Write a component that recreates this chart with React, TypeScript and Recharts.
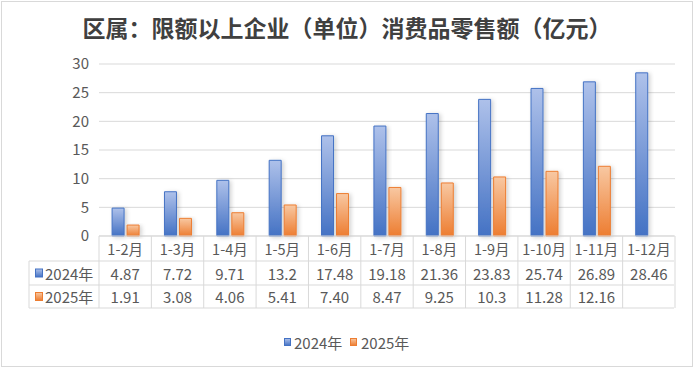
import { BarChart, Bar, XAxis, YAxis, CartesianGrid } from 'recharts';

const title = '区属：限额以上企业（单位）消费品零售额（亿元）';
const categories = ['1-2月', '1-3月', '1-4月', '1-5月', '1-6月', '1-7月', '1-8月', '1-9月', '1-10月', '1-11月', '1-12月'];
const seriesNames = ['2024年', '2025年'];
const values2024 = ['4.87', '7.72', '9.71', '13.2', '17.48', '19.18', '21.36', '23.83', '25.74', '26.89', '28.46'];
const values2025 = ['1.91', '3.08', '4.06', '5.41', '7.40', '8.47', '9.25', '10.3', '11.28', '12.16', ''];
const yTicks = [0, 5, 10, 15, 20, 25, 30];

const data = categories.map((c, i) => ({
  name: c,
  y2024: values2024[i] === '' ? null : Number(values2024[i]),
  y2025: values2025[i] === '' ? null : Number(values2025[i]),
}));

const W = 694;
const H = 368;
const PLOT_L = 99;
const PLOT_R = 675;
const PLOT_T = 64;
const PLOT_B = 236;
const BAND = (PLOT_R - PLOT_L) / categories.length;
const ROWS = [236, 261, 285, 308];
const FONT = "'Noto Sans CJK SC', 'Microsoft YaHei', sans-serif";
const TEXT = '#595959';
const LINE = '#d9d9d9';
const colors = ['#4472c4', '#ed7d31'];

const TableTick = (props: any) => {
  const { x, payload } = props;
  const i = payload?.index ?? props.index;
  const cells = [categories[i], values2024[i], values2025[i]];
  return (
    <g fontFamily={FONT} fill={TEXT}>
      <line x1={x + BAND / 2} x2={x + BAND / 2} y1={ROWS[0]} y2={ROWS[3]} stroke={LINE} />
      {cells.map((t, r) => (
        <text
          key={r}
          x={x}
          y={(ROWS[r] + ROWS[r + 1]) / 2}
          textAnchor="middle"
          dominantBaseline="central"
          fontSize={r === 0 ? 14.5 : 15}
          fill={TEXT}
        >
          {t}
        </text>
      ))}
    </g>
  );
};

export default function App() {
  return (
    <div style={{ position: 'relative', width: W, height: H, background: '#fff' }}>
      <style>{'body{margin:0}'}</style>
      <BarChart
        width={W}
        height={H}
        data={data}
        margin={{ top: PLOT_T, right: W - PLOT_R, bottom: 0, left: 49 }}
        barCategoryGap="25%"
        barGap={3}
      >
        <defs>
          <linearGradient id="gBlue" x1="0" y1="0" x2="0" y2="1">
            <stop offset="0%" stopColor="#aec1ea" />
            <stop offset="100%" stopColor="#4472c4" />
          </linearGradient>
          <linearGradient id="gOrange" x1="0" y1="0" x2="0" y2="1">
            <stop offset="0%" stopColor="#f8c8a2" />
            <stop offset="100%" stopColor="#ed7d31" />
          </linearGradient>
          <filter id="shadow" x="-50%" y="-10%" width="200%" height="130%">
            <feDropShadow dx="2" dy="1" stdDeviation="2" floodColor="#000" floodOpacity="0.18" />
          </filter>
        </defs>
        <CartesianGrid vertical={false} stroke={LINE} />
        <XAxis
          dataKey="name"
          height={H - PLOT_B}
          interval={0}
          axisLine={false}
          tickLine={false}
          tick={(p: any) => <TableTick {...p} />}
        />
        <YAxis
          width={50}
          domain={[0, 30]}
          ticks={yTicks}
          axisLine={false}
          tickLine={false}
          tickMargin={4}
          tick={{ fill: TEXT, fontSize: 15, fontFamily: FONT }}
        />
        <Bar
          dataKey="y2024"
          name={seriesNames[0]}
          fill="url(#gBlue)"
          stroke={colors[0]}
          strokeWidth={1}
          filter="url(#shadow)"
          isAnimationActive={false}
        />
        <Bar
          dataKey="y2025"
          name={seriesNames[1]}
          fill="url(#gOrange)"
          stroke={colors[1]}
          strokeWidth={1}
          filter="url(#shadow)"
          isAnimationActive={false}
        />
      </BarChart>
      <svg
        width={W}
        height={H}
        style={{ position: 'absolute', left: 0, top: 0, pointerEvents: 'none' }}
        fontFamily={FONT}
      >
        <rect x={1.5} y={1.5} width={W - 3} height={H - 3} fill="none" stroke={LINE} />
        <text x={W / 2} y={27} textAnchor="middle" dominantBaseline="central" fontSize={23} fontWeight="bold" fill="#404040">
          {title}
        </text>
        {/* table frame */}
        <line x1={PLOT_L} x2={PLOT_R - 1} y1={ROWS[0]} y2={ROWS[0]} stroke={LINE} />
        <line x1={29} x2={PLOT_R - 1} y1={ROWS[1]} y2={ROWS[1]} stroke={LINE} />
        <line x1={29} x2={PLOT_R - 1} y1={ROWS[2]} y2={ROWS[2]} stroke={LINE} />
        <line x1={29} x2={PLOT_R - 1} y1={ROWS[3]} y2={ROWS[3]} stroke={LINE} />
        <line x1={PLOT_L} x2={PLOT_L} y1={ROWS[0]} y2={ROWS[3]} stroke={LINE} />
        <line x1={29} x2={29} y1={ROWS[1]} y2={ROWS[3]} stroke={LINE} />
        {seriesNames.map((s, i) => {
          const cy = (ROWS[i + 1] + ROWS[i + 2]) / 2;
          return (
            <g key={s}>
              <rect x={35.5} y={cy - 4} width={7} height={8} fill={i === 0 ? 'url(#lgBlue)' : 'url(#lgOrange)'} stroke={colors[i]} />
              <text x={45} y={cy} dominantBaseline="central" fontSize={15} fill={TEXT}>{s}</text>
            </g>
          );
        })}
        <defs>
          <linearGradient id="lgBlue" x1="0" y1="0" x2="0" y2="1">
            <stop offset="0%" stopColor="#aec1ea" />
            <stop offset="100%" stopColor="#4472c4" />
          </linearGradient>
          <linearGradient id="lgOrange" x1="0" y1="0" x2="0" y2="1">
            <stop offset="0%" stopColor="#f8c8a2" />
            <stop offset="100%" stopColor="#ed7d31" />
          </linearGradient>
        </defs>
        {/* legend */}
        {seriesNames.map((s, i) => (
          <g key={'lg' + s}>
            <rect x={284.5 + i * 66} y={338.5} width={6} height={7} fill={i === 0 ? 'url(#lgBlue)' : 'url(#lgOrange)'} stroke={colors[i]} />
            <text x={294 + i * 67} y={342.5} dominantBaseline="central" fontSize={15} fill={TEXT}>{s}</text>
          </g>
        ))}
      </svg>
    </div>
  );
}
